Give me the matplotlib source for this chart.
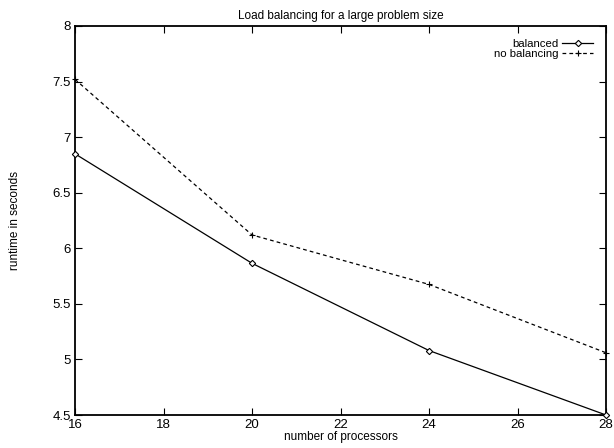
import matplotlib
matplotlib.use("Agg")
import matplotlib.pyplot as plt

processors = [16, 20, 24, 28]
balanced = [6.85, 5.865, 5.08, 4.5]
no_balancing = [7.52, 6.12, 5.675, 5.06]

x_ticks = [16, 18, 20, 22, 24, 26, 28]
y_ticks = [4.5, 5, 5.5, 6, 6.5, 7, 7.5, 8]

plt.rcParams["font.family"] = ["Liberation Sans", "DejaVu Sans"]
plt.rcParams["font.size"] = 8.5

fig = plt.figure(figsize=(6.14, 4.48), dpi=100)
ax = fig.add_axes([75 / 614, 1 - 415 / 448, 531 / 614, 389 / 448])

ax.plot(processors, balanced, color="black", linewidth=0.9,
        marker="D", markersize=3.2, markerfacecolor="white",
        markeredgecolor="black", markeredgewidth=0.8, label="balanced",
        clip_on=False, zorder=3)
ax.plot(processors, no_balancing, color="black", linewidth=0.9,
        linestyle=(0, (3, 2.5)), marker="+", markersize=5,
        markeredgewidth=0.8, label="no balancing", clip_on=False, zorder=3)

ax.set_xlim(16, 28)
ax.set_ylim(4.5, 8)
ax.set_xticks(x_ticks)
ax.set_yticks(y_ticks)
ax.set_xticklabels([str(v) for v in x_ticks])
ax.set_yticklabels(["4.5", "5", "5.5", "6", "6.5", "7", "7.5", "8"])
ax.tick_params(direction="in", length=5, width=0.8, top=True, right=True,
               pad=3, labelsize=9.5)

for spine in ax.spines.values():
    spine.set_linewidth(1.3)

ax.set_title("Load balancing for a large problem size", fontsize=8.5, pad=5)
ax.set_xlabel("number of processors", labelpad=0)
ax.set_ylabel("runtime in seconds", labelpad=23)

leg = ax.legend(loc="upper right", frameon=False, markerfirst=False,
                handlelength=2.7, handletextpad=0.35, labelspacing=0.0,
                borderaxespad=0.7, borderpad=0.45, fontsize=8.2)
for t in leg.get_texts():
    t.set_ha("right")
leg._legend_box.align = "right"

fig.savefig("out.png", dpi=100)
